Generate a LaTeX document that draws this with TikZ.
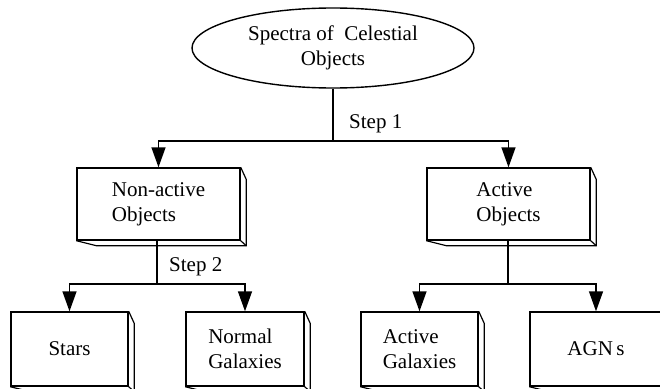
\documentclass[tikz,border=0pt]{standalone}
\usepackage{fontspec}
\setmainfont{Liberation Serif}
\usetikzlibrary{arrows.meta,calc,shapes.geometric}
\begin{document}
\begin{tikzpicture}[x=1pt,y=-1pt,
  every node/.style={font=\fontsize{21}{25}\selectfont},
  line/.style={line width=1.4pt},
  arr/.style={line width=1.4pt,-{Triangle[length=20pt,width=14pt]}},
  boxnode/.style={draw,line width=1.4pt,rectangle,align=left,inner sep=0pt,fill=white},
  shadowline/.style={line width=1.2pt,line join=miter}
]
\useasboundingbox (0,0) rectangle (660,388);
\node[draw,ellipse,line width=1.4pt,minimum width=282pt,minimum height=80pt,inner sep=0pt,align=center] (ell) at (333,48) {Spectra of \ Celestial\\Objects};
\node[boxnode,minimum width=163pt,minimum height=72pt] (na) at (158.5,204) {Non-active\\Objects};
\node[boxnode,minimum width=163pt,minimum height=72pt] (ao) at (508.5,204) {Active\\Objects};
\node[boxnode,minimum width=117pt,minimum height=74pt] (st) at (69.5,349) {Stars};
\node[boxnode,minimum width=118pt,minimum height=74pt] (ng) at (245,349) {Normal\\Galaxies};
\node[boxnode,minimum width=117pt,minimum height=74pt] (ag) at (419.5,349) {Active\\Galaxies};
\node[boxnode,minimum width=132pt,minimum height=74pt] (agn) at (596,349) {AGN\,s};
\foreach \n in {na,ao,st,ng,ag,agn}{
  \draw[shadowline] (\n.north east) -- ++(5.5,12) -- ($(\n.south east)+(5.5,5)$) -- ($(\n.south west)+(20,5)$) -- (\n.south west);
  \draw[shadowline] (\n.south east) -- ++(5.5,5);
}
\coordinate (j1) at (333,141);
\coordinate (j2) at (157,284);
\coordinate (j3) at (508,284);
\draw[line] (ell.south) -- (j1);
\draw[arr] (j1) -| (na.north);
\draw[arr] (j1) -| (ao.north);
\draw[line] (na.south -| j2) -- (j2);
\draw[arr] (j2) -| (st.north);
\draw[arr] (j2) -| (ng.north);
\draw[line] (ao.south -| j3) -- (j3);
\draw[arr] (j3) -| (ag.north);
\draw[arr] (j3) -| (agn.north);
\node[anchor=west,inner sep=0pt] (s1) at (349,124) {Step 1};
\node[anchor=west,inner sep=0pt] (s2) at (169,267) {Step 2};
\end{tikzpicture}
\end{document}
